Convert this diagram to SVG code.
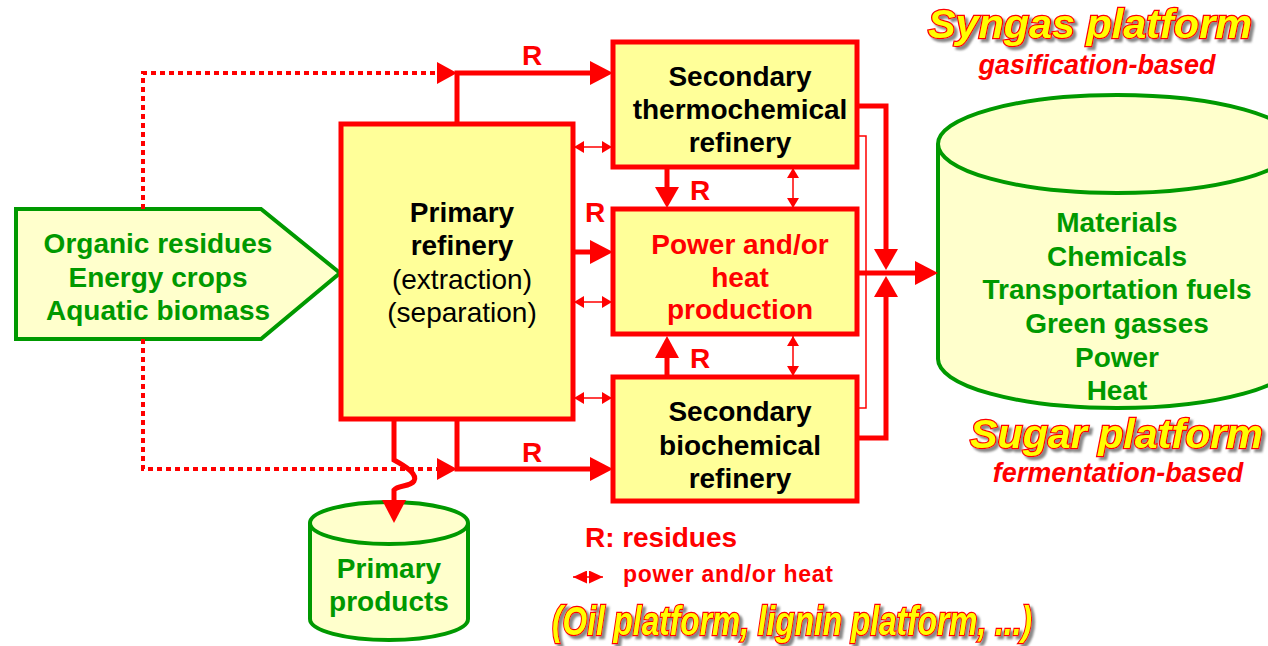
<svg xmlns="http://www.w3.org/2000/svg" width="1268" height="646" viewBox="0 0 1268 646">
<defs>
<style>
.box{fill:#FFFF99;stroke:#FF0000;stroke-width:5}
.pale{fill:#FFFFCC;stroke:#009900;stroke-width:4}
.t{font-family:"Liberation Sans",Arial,sans-serif;font-weight:bold;font-size:28px;text-anchor:middle}
.blk{fill:#000}
.red{fill:#FF0000}
.grn{fill:#009900}
.reg{font-weight:normal}
.thick{fill:none;stroke:#FF0000;stroke-width:5}
.dot{fill:none;stroke:#FF0000;stroke-width:4;stroke-dasharray:5 4}
.thin{fill:none;stroke:#FF0000;stroke-width:1.5}
.head{fill:#FF0000}
.big{font-family:"Liberation Sans",Arial,sans-serif;font-weight:bold;font-style:italic;font-size:40px;fill:#FFFF00;stroke:#FF0000;stroke-width:2.5;paint-order:stroke;filter:url(#shadow)}
.it{font-family:"Liberation Sans",Arial,sans-serif;font-weight:bold;font-style:italic;font-size:27px;fill:#FF0000;text-anchor:middle}
</style>
<filter id="shadow" x="-5%" y="-20%" width="110%" height="150%">
<feDropShadow dx="3" dy="3" stdDeviation="0.8" flood-color="#888888" flood-opacity="1"/>
</filter>
<marker id="dh" viewBox="0 0 10 12" refX="10" refY="6" markerWidth="10" markerHeight="12" markerUnits="userSpaceOnUse" orient="auto-start-reverse">
<path d="M0,0 L10,6 L0,12 Z" fill="#FF0000"/>
</marker>
<marker id="dhl" viewBox="0 0 14 13" refX="14" refY="6.5" markerWidth="14" markerHeight="13" markerUnits="userSpaceOnUse" orient="auto-start-reverse">
<path d="M0,0 L14,6.5 L0,13 Z" fill="#FF0000"/>
</marker>
</defs>

<g id="inputs">
<path class="pale" d="M16,209 H261 L340,273 L261,339 H16 Z"/>
<text class="t grn" x="158" y="253">Organic residues</text>
<text class="t grn" x="158" y="287">Energy crops</text>
<text class="t grn" x="158" y="320">Aquatic biomass</text>
</g>

<g id="primary-refinery">
<rect class="box" x="341" y="124" width="232" height="295"/>
<text class="t blk" x="462" y="222">Primary</text>
<text class="t blk" x="462" y="255">refinery</text>
<text class="t blk reg" x="462" y="289">(extraction)</text>
<text class="t blk reg" x="462" y="322">(separation)</text>
</g>

<g id="thermochemical">
<rect class="box" x="613" y="42" width="244" height="125"/>
<text class="t blk" x="740" y="86">Secondary</text>
<text class="t blk" x="740" y="119">thermochemical</text>
<text class="t blk" x="740" y="152">refinery</text>
</g>

<g id="power-heat">
<rect class="box" x="613" y="209" width="244" height="125"/>
<text class="t red" x="740" y="254">Power and/or</text>
<text class="t red" x="740" y="287">heat</text>
<text class="t red" x="740" y="319">production</text>
</g>

<g id="biochemical">
<rect class="box" x="613" y="377" width="244" height="124"/>
<text class="t blk" x="740" y="421">Secondary</text>
<text class="t blk" x="740" y="455">biochemical</text>
<text class="t blk" x="740" y="488">refinery</text>
</g>

<g id="products">
<path class="pale" d="M938,144 A179,49 0 0,1 1296,144 V359 A179,49 0 0,1 938,359 Z"/>
<path class="pale" style="fill:none" d="M938,144 A179,49 0 0,0 1296,144"/>
<text class="t grn" x="1117" y="232">Materials</text>
<text class="t grn" x="1117" y="266">Chemicals</text>
<text class="t grn" x="1117" y="299">Transportation fuels</text>
<text class="t grn" x="1117" y="333">Green gasses</text>
<text class="t grn" x="1117" y="367">Power</text>
<text class="t grn" x="1117" y="400">Heat</text>
</g>

<g id="primary-products">
<path class="pale" d="M310,523 A79,21 0 0,1 468,523 V619 A79,21 0 0,1 310,619 Z"/>
<path class="pale" style="fill:none" d="M310,523 A79,21 0 0,0 468,523"/>
<text class="t grn" x="389" y="578">Primary</text>
<text class="t grn" x="389" y="611">products</text>
</g>

<g id="connectors">
<path class="dot" d="M143,209 V73 H438"/>
<polygon class="head" points="437,62 457,73 437,84"/>
<path class="dot" d="M143,339 V469 H438"/>
<polygon class="head" points="437,458 457,469 437,480"/>
<path class="thick" d="M457,124 V73 H592"/>
<polygon class="head" points="590,61 613,73 590,85"/>
<path class="thick" d="M457,419 V469 H592"/>
<polygon class="head" points="590,457 613,469 590,481"/>
<path class="thick" d="M573,252 H592"/>
<polygon class="head" points="590,240 613,252 590,264"/>
<path class="thick" d="M667,167 V189"/>
<polygon class="head" points="655,187 667,208 679,187"/>
<path class="thick" d="M667,377 V356"/>
<polygon class="head" points="655,358 667,336 679,358"/>
<path class="thick" d="M394,419 V460 C405,466 418,474 414,481 C410,487 398,485 394,490 V502"/>
<polygon class="head" points="382,500 394,523 406,500"/>
<path class="thick" d="M857,106 H886 V251"/>
<polygon class="head" points="874,249 886,270 898,249"/>
<path class="thick" d="M857,438 H886 V295"/>
<polygon class="head" points="874,297 886,276 898,297"/>
<path class="thick" d="M857,273 H917"/>
<polygon class="head" points="915,261 938,273 915,285"/>
<path class="thin" d="M857,136 H866 V408 H857"/>
<line class="thin" x1="574" y1="147" x2="612" y2="147" marker-start="url(#dh)" marker-end="url(#dh)"/>
<line class="thin" x1="574" y1="302" x2="612" y2="302" marker-start="url(#dh)" marker-end="url(#dh)"/>
<line class="thin" x1="574" y1="398" x2="612" y2="398" marker-start="url(#dh)" marker-end="url(#dh)"/>
<line class="thin" x1="793" y1="168" x2="793" y2="208" marker-start="url(#dh)" marker-end="url(#dh)"/>
<line class="thin" x1="793" y1="336" x2="793" y2="376" marker-start="url(#dh)" marker-end="url(#dh)"/>
<text class="t red" x="532" y="65">R</text>
<text class="t red" x="595" y="222">R</text>
<text class="t red" x="700" y="200">R</text>
<text class="t red" x="700" y="368">R</text>
<text class="t red" x="532" y="462">R</text>
</g>

<g id="legend">
<text class="t red" x="585" y="547" style="text-anchor:start" textLength="152">R: residues</text>
<line class="thin" x1="573" y1="577" x2="603" y2="577" marker-start="url(#dhl)" marker-end="url(#dhl)"/>
<text class="t red" x="623" y="582" style="text-anchor:start;font-size:23px" textLength="210">power and/or heat</text>
</g>

<g id="titles">
<text class="big" x="928" y="38" textLength="324" lengthAdjust="spacingAndGlyphs">Syngas platform</text>
<text class="it" x="1097" y="74">gasification-based</text>
<text class="big" x="970" y="448" textLength="293" lengthAdjust="spacingAndGlyphs">Sugar platform</text>
<text class="it" x="1118" y="482">fermentation-based</text>
<text class="big" x="552" y="635" textLength="480" lengthAdjust="spacingAndGlyphs">(Oil platform, lignin platform, ...)</text>
</g>
</svg>
